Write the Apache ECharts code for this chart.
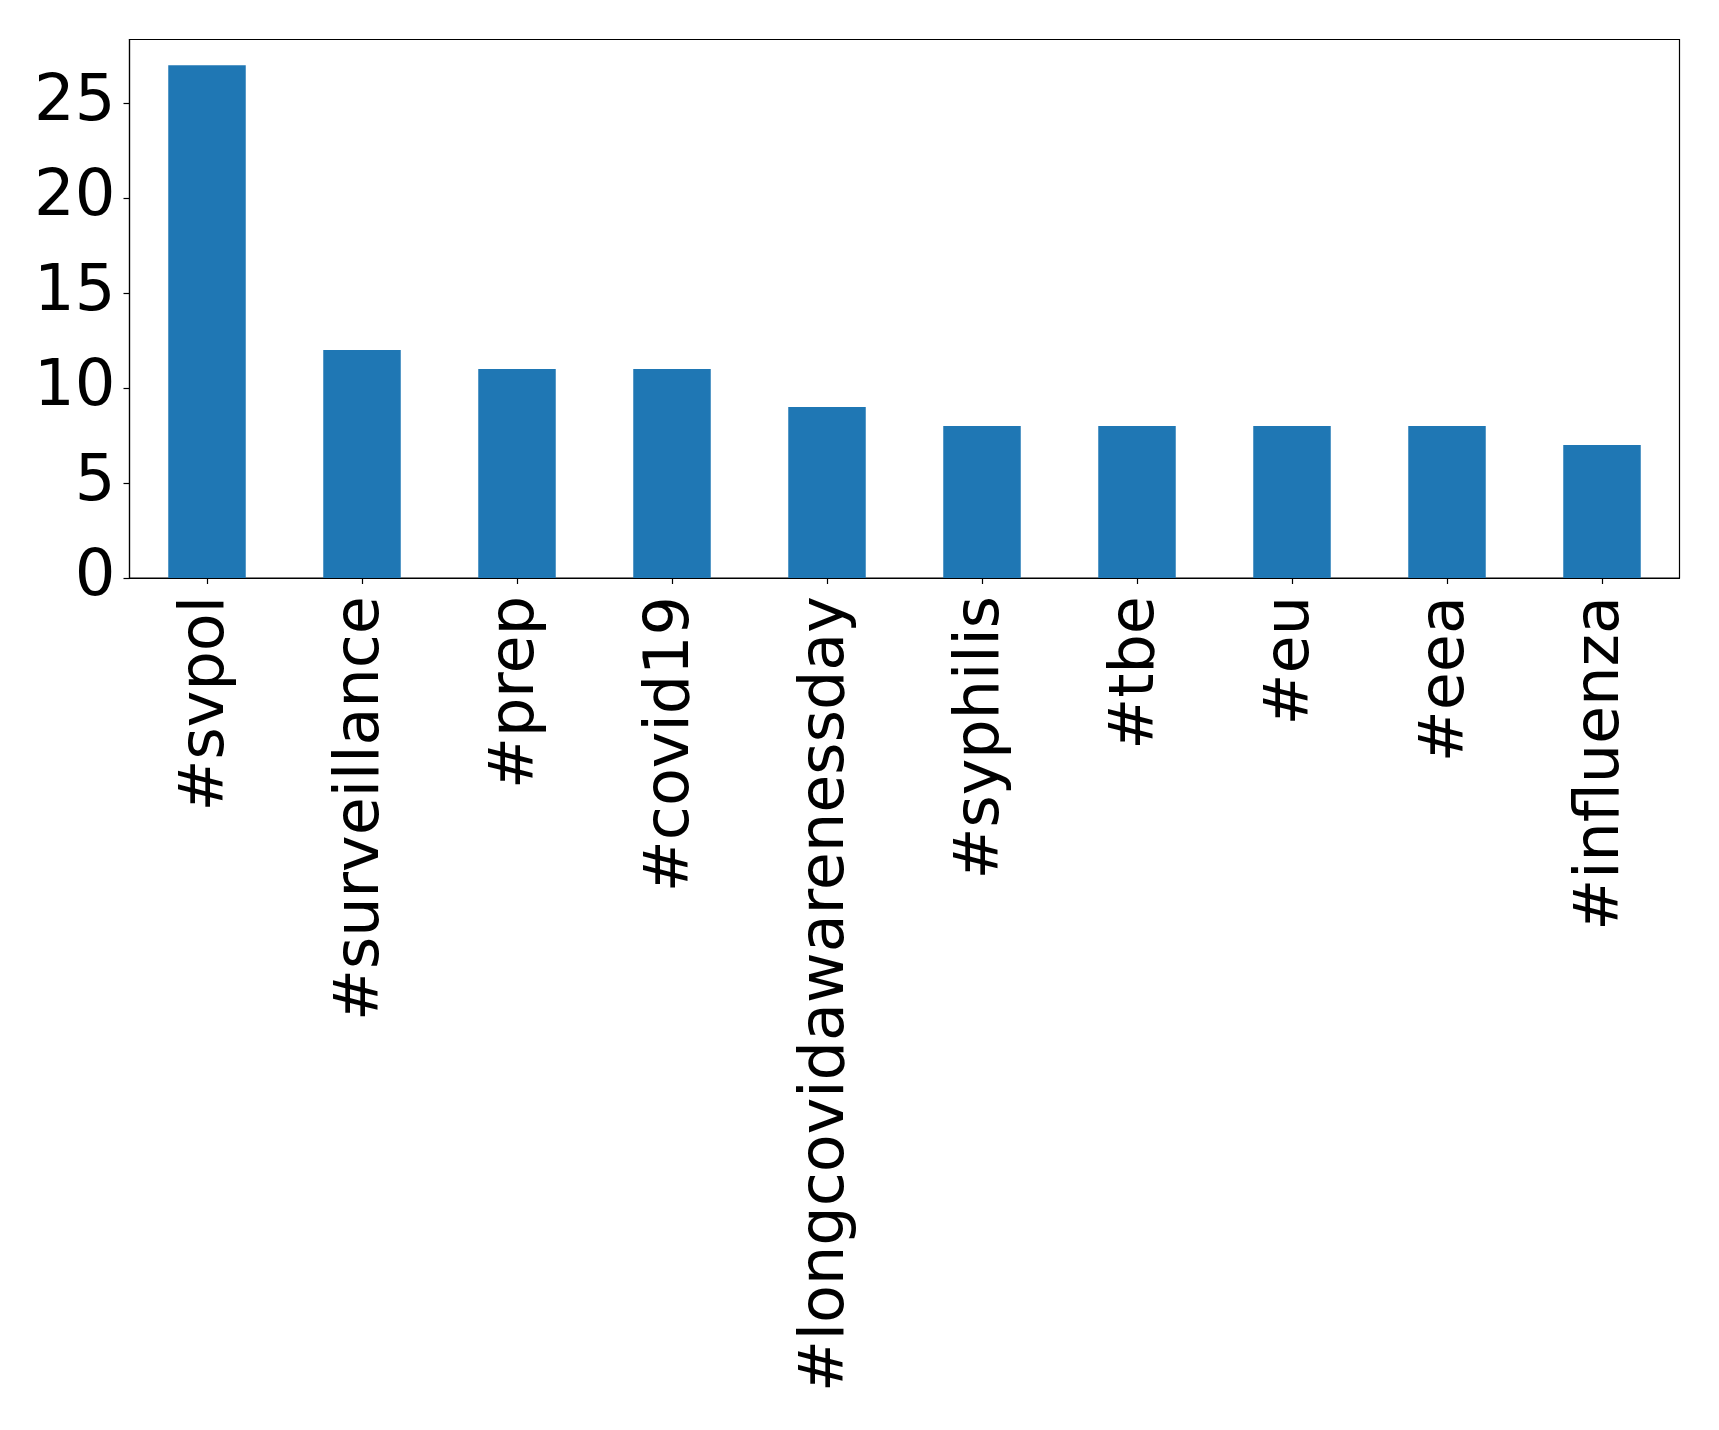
<!DOCTYPE html>
<html>
<head>
<meta charset="utf-8">
<script src="https://cdn.jsdelivr.net/npm/echarts@6/dist/echarts.min.js"></script>
<style>
html,body{margin:0;padding:0;background:#fff;}
#chart{width:1719px;height:1430px;}
</style>
</head>
<body>
<div id="chart"></div>
<script>
const categories = ['#svpol','#surveillance','#prep','#covid19','#longcovidawarenessday','#syphilis','#tbe','#eu','#eea','#influenza'];
const counts = [27,12,11,11,9,8,8,8,8,7];
const yTicks = [0,5,10,15,20,25];

const chart = echarts.init(document.getElementById('chart'));
const font = 'DejaVu Sans';
chart.setOption({
  animation: false,
  backgroundColor: '#fff',
  grid: {left: 129.5, top: 39.5, right: 39.5, bottom: 852, show: true, borderColor: '#000', borderWidth: 1.2, backgroundColor: 'transparent'},
  xAxis: {
    type: 'category',
    data: categories,
    boundaryGap: true,
    axisLine: {show: true, lineStyle: {color: '#000', width: 1.2}},
    axisTick: {show: true, alignWithLabel: true, length: 6, lineStyle: {color: '#000', width: 1.2}},
    axisLabel: {rotate: 90, margin: 18, fontSize: 62, fontFamily: font, color: '#000', interval: 0}
  },
  yAxis: {
    type: 'value',
    min: 0,
    max: 28.35,
    interval: 5,
    splitLine: {show: false},
    axisLine: {show: true, lineStyle: {color: '#000', width: 1.2}},
    axisTick: {show: true, length: 6, lineStyle: {color: '#000', width: 1.2}, customValues: yTicks},
    axisLabel: {margin: 14, fontSize: 64, fontFamily: font, color: '#000', customValues: yTicks}
  },
  series: [{
    type: 'bar',
    data: counts,
    barWidth: '50%',
    itemStyle: {color: '#1f77b4'}
  }]
});
</script>
</body>
</html>
